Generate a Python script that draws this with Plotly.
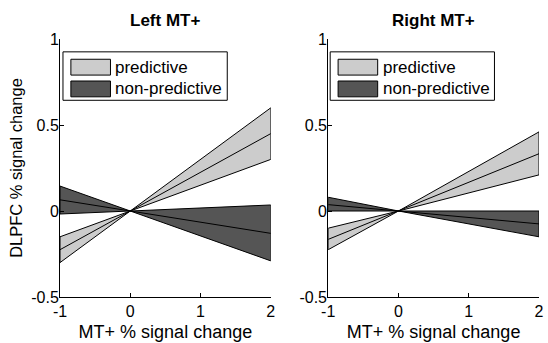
import plotly.graph_objects as go

# ---- data ----
x_pts = [-1, 0, 2]

left_pred_top = [-0.15, 0.0, 0.60]
left_pred_mid = [-0.225, 0.0, 0.45]
left_pred_bot = [-0.30, 0.0, 0.30]

left_np_top = [0.145, 0.0, 0.035]
left_np_mid = [0.065, 0.0, -0.13]
left_np_bot = [-0.0175, 0.0, -0.29]

right_pred_top = [-0.10, 0.0, 0.46]
right_pred_mid = [-0.165, 0.0, 0.333]
right_pred_bot = [-0.225, 0.0, 0.21]

right_np_top = [0.08, 0.0, 0.0]
right_np_mid = [0.037, 0.0, -0.075]
right_np_bot = [0.0, 0.0, -0.15]

x_tickvals = [-1, 0, 1, 2]
x_ticktext = ["-1", "0", "1", "2"]
y_tickvals = [-0.5, 0, 0.5, 1]
y_ticktext = ["-0.5", "0", "0.5", "1"]

panel_titles = ["Left MT+", "Right MT+"]
series_names = ["predictive", "non-predictive"]
LIGHT = "#cccccc"
DARK = "#555555"
FONT = "Liberation Sans, Arial, sans-serif"

W, H = 548, 343
ml, mr, mt, mb = 60, 4, 39, 43
pw = W - ml - mr
ph = H - mt - mb


def px(x):
    return (x - ml) / pw


def py(y):
    return 1 - (y - mt) / ph


fig = go.Figure()

panels = [
    ("x", "y", [(left_pred_top, left_pred_mid, left_pred_bot, LIGHT),
                (left_np_top, left_np_mid, left_np_bot, DARK)]),
    ("x2", "y2", [(right_pred_top, right_pred_mid, right_pred_bot, LIGHT),
                  (right_np_top, right_np_mid, right_np_bot, DARK)]),
]

for xa, ya, series in panels:
    for name, (top, mid, bot, col) in zip(series_names, series):
        fig.add_trace(go.Scatter(
            x=x_pts + x_pts[::-1] + [x_pts[0]],
            y=top + bot[::-1] + [top[0]],
            fill="toself", fillcolor=col, mode="lines",
            line=dict(color="black", width=1),
            name=name, showlegend=False, xaxis=xa, yaxis=ya, hoverinfo="skip"))
        fig.add_trace(go.Scatter(
            x=x_pts, y=mid, mode="lines", line=dict(color="black", width=1),
            showlegend=False, xaxis=xa, yaxis=ya, hoverinfo="skip"))

d1 = [0, px(273)]
d2 = [px(331), 1]

axis_common = dict(showline=True, linecolor="black", linewidth=1, ticks="inside",
                   ticklen=4, tickcolor="black", showgrid=False, zeroline=False,
                   tickfont=dict(size=16, color="black", family=FONT), mirror=False)

shapes = []
annotations = []
for i, x0 in enumerate([63, 333]):
    # legend box
    shapes.append(dict(type="rect", xref="paper", yref="paper",
                       x0=px(x0), x1=px(x0 + 166), y0=py(52), y1=py(101),
                       fillcolor="white", line=dict(color="black", width=1), layer="above"))
    for j, (nm, col) in enumerate(zip(series_names, [LIGHT, DARK])):
        yc = 67.5 + 22 * j
        shapes.append(dict(type="rect", xref="paper", yref="paper",
                           x0=px(x0 + 8), x1=px(x0 + 48), y0=py(yc - 8), y1=py(yc + 8),
                           fillcolor=col, line=dict(color="black", width=1), layer="above"))
        annotations.append(dict(text=nm, x=px(x0 + 51), y=py(yc), xref="paper", yref="paper",
                                showarrow=False, xanchor="left", yanchor="middle",
                                font=dict(size=17, color="black")))

annotations.append(dict(text="<b>" + panel_titles[0] + "</b>", x=sum(d1) / 2, y=py(20),
                        xref="paper", yref="paper", showarrow=False, font=dict(size=17),
                        xanchor="center", yanchor="middle"))
annotations.append(dict(text="<b>" + panel_titles[1] + "</b>", x=sum(d2) / 2, y=py(20),
                        xref="paper", yref="paper", showarrow=False, font=dict(size=17),
                        xanchor="center", yanchor="middle"))

fig.update_layout(
    width=W, height=H, margin=dict(l=ml, r=mr, t=mt, b=mb),
    paper_bgcolor="white", plot_bgcolor="white", showlegend=False,
    font=dict(family=FONT, color="black"),
    xaxis=dict(domain=d1, range=[-1, 2], tickvals=x_tickvals, ticktext=x_ticktext,
               title=dict(text="MT+ % signal change", font=dict(size=18), standoff=6),
               anchor="y", **axis_common),
    yaxis=dict(domain=[0, 1], range=[-0.5, 1], tickvals=y_tickvals, ticktext=y_ticktext,
               title=dict(text="DLPFC % signal change", font=dict(size=16.5), standoff=4),
               anchor="x", ticklabelstandoff=-3, **axis_common),
    xaxis2=dict(domain=d2, range=[-1, 2], tickvals=x_tickvals, ticktext=x_ticktext,
                title=dict(text="MT+ % signal change", font=dict(size=18), standoff=6),
                anchor="y2", **axis_common),
    yaxis2=dict(domain=[0, 1], range=[-0.5, 1], tickvals=y_tickvals, ticktext=y_ticktext,
                anchor="x2", ticklabelstandoff=-3, **axis_common),
    shapes=shapes,
    annotations=annotations,
)

fig.write_html("out.html")
